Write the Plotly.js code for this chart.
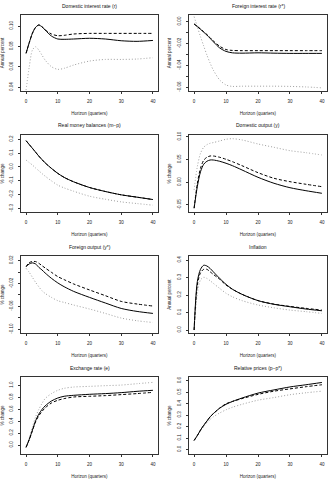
<!DOCTYPE html>
<html>
<head>
<meta charset="utf-8">
<script src="https://cdn.plot.ly/plotly-3.0.1.min.js"></script>
<style>html,body{margin:0;padding:0;background:#fff;}#chart{width:331px;height:481px;}</style>
</head>
<body>
<div id="chart"></div>
<script>
// Horizon (quarters) at which values were read
const horizon = [0,1,2,3,4,5,6,8,10,12,15,20,25,30,35,40];
const xTicks = [0,10,20,30,40];

// Panel titles and y-axis titles
const titles = ["Domestic interest rate (r)","Foreign interest rate (r*)","Real money balances (m\u2212p)","Domestic output (y)","Foreign output (y*)","Inflation","Exchange rate (e)","Relative prices (p\u2212p*)"];
const yTitles = ["Annual percent","Annual percent","% change","% change","% change","Annual percent","% change","% change"];
const xTitle = "Horizon (quarters)";

// 1 Domestic interest rate
const rSolid  = [0.0733,0.0837,0.0929,0.0987,0.1010,0.0992,0.0961,0.0902,0.0873,0.0870,0.0873,0.0880,0.0873,0.0856,0.0850,0.0859];
const rDashed = [0.0733,0.0837,0.0929,0.0987,0.1010,0.0995,0.0965,0.0922,0.0905,0.0909,0.0922,0.0928,0.0928,0.0928,0.0928,0.0928];
const rDotted = [0.0373,0.0600,0.0765,0.0797,0.0765,0.0716,0.0667,0.0602,0.0576,0.0586,0.0618,0.0657,0.0673,0.0673,0.0677,0.0690];
// 2 Foreign interest rate
const rsSolid  = [-0.0021,-0.0045,-0.0070,-0.0096,-0.0122,-0.0152,-0.0183,-0.0240,-0.0272,-0.0285,-0.0288,-0.0285,-0.0288,-0.0290,-0.0290,-0.0290];
const rsDashed = [-0.0021,-0.0043,-0.0066,-0.0092,-0.0117,-0.0146,-0.0175,-0.0225,-0.0255,-0.0263,-0.0265,-0.0265,-0.0265,-0.0265,-0.0265,-0.0265];
const rsDotted = [0.0046,-0.0045,-0.0137,-0.0222,-0.0305,-0.0378,-0.0442,-0.0533,-0.0579,-0.0592,-0.0590,-0.0590,-0.0590,-0.0592,-0.0597,-0.0605];
// 3 Real money balances
const mSolid  = [0.190,0.162,0.135,0.107,0.079,0.054,0.030,-0.010,-0.046,-0.075,-0.107,-0.148,-0.177,-0.201,-0.218,-0.235];
const mDashed = [0.190,0.162,0.135,0.107,0.079,0.054,0.030,-0.010,-0.046,-0.075,-0.107,-0.148,-0.177,-0.201,-0.218,-0.235];
const mDotted = [0.050,0.032,0.014,-0.007,-0.027,-0.047,-0.066,-0.100,-0.131,-0.151,-0.175,-0.211,-0.233,-0.252,-0.264,-0.276];
// 4 Domestic output
const ySolid  = [-0.057,-0.0098,0.023,0.0394,0.046,0.0488,0.0488,0.046,0.0416,0.0363,0.0269,0.0108,-0.0023,-0.012,-0.0186,-0.0243];
const yDashed = [-0.057,-0.003,0.0306,0.0482,0.0548,0.0576,0.0576,0.0548,0.0503,0.0451,0.0363,0.021,0.0086,0.0012,-0.0045,-0.0098];
const yDotted = [-0.017,0.034,0.0635,0.0767,0.0825,0.0855,0.087,0.0906,0.0943,0.0956,0.0928,0.084,0.0767,0.0693,0.0649,0.0598];
// 5 Foreign output
const ysSolid  = [0.0095,0.0142,0.016,0.0142,0.0083,0.0037,-0.0016,-0.011,-0.019,-0.0256,-0.0338,-0.0443,-0.0541,-0.0636,-0.0688,-0.0723];
const ysDashed = [0.0095,0.0165,0.0183,0.0183,0.0153,0.0112,0.0072,-0.0005,-0.008,-0.0133,-0.0208,-0.0313,-0.0413,-0.0513,-0.0559,-0.0594];
const ysDotted = [0.0065,-0.0005,-0.0093,-0.018,-0.0256,-0.0326,-0.0373,-0.0443,-0.0501,-0.0531,-0.0576,-0.0646,-0.0723,-0.0804,-0.0851,-0.0881];
// 6 Inflation
const piSolid  = [0.0,0.276,0.347,0.370,0.366,0.352,0.333,0.295,0.261,0.233,0.204,0.168,0.147,0.133,0.120,0.110];
const piDashed = [0.0,0.257,0.327,0.347,0.347,0.333,0.318,0.290,0.257,0.233,0.204,0.168,0.148,0.135,0.124,0.114];
const piDotted = [0.004,0.210,0.286,0.301,0.295,0.282,0.267,0.238,0.210,0.190,0.168,0.143,0.127,0.114,0.105,0.095];
// 7 Exchange rate
const eSolid  = [-0.038,0.095,0.25,0.405,0.517,0.595,0.655,0.738,0.788,0.817,0.833,0.85,0.862,0.878,0.90,0.917];
const eDashed = [-0.038,0.09,0.24,0.39,0.489,0.562,0.622,0.705,0.75,0.778,0.805,0.817,0.828,0.845,0.862,0.883];
const eDotted = [-0.038,0.112,0.305,0.472,0.595,0.695,0.778,0.862,0.917,0.95,0.972,0.983,0.995,1.005,1.028,1.05];
// 8 Relative prices
const pSolid  = [0.079,0.121,0.169,0.211,0.248,0.285,0.313,0.361,0.395,0.420,0.450,0.493,0.521,0.547,0.566,0.586];
const pDashed = [0.079,0.121,0.169,0.211,0.248,0.285,0.313,0.362,0.400,0.420,0.445,0.482,0.510,0.530,0.549,0.566];
const pDotted = [0.079,0.121,0.163,0.200,0.234,0.262,0.285,0.319,0.347,0.369,0.395,0.431,0.454,0.479,0.496,0.510];

// Y tick values and labels
const yTickVals = [
  [0.04,0.06,0.08,0.10],
  [-0.06,-0.05,-0.04,-0.03,-0.02,-0.01,0.00],
  [-0.3,-0.2,-0.1,0.0,0.1,0.2],
  [-0.05,0.00,0.05,0.10],
  [-0.10,-0.08,-0.06,-0.04,-0.02,0.00,0.02],
  [0.0,0.1,0.2,0.3,0.4],
  [0.0,0.2,0.4,0.6,0.8,1.0],
  [0.0,0.1,0.2,0.3,0.4,0.5,0.6]
];
const yTickText = [
  ["0.04","0.06","0.08","0.10"],
  ["-0.06","","-0.04","","-0.02","","0.00"],
  ["-0.3","-0.2","-0.1","0.0","0.1","0.2"],
  ["-0.05","0.00","0.05","0.10"],
  ["-0.10","","-0.06","","-0.02","","0.02"],
  ["0.0","0.1","0.2","0.3","0.4"],
  ["0.0","0.2","0.4","0.6","0.8","1.0"],
  ["0.0","0.1","0.2","0.3","0.4","0.5","0.6"]
];
const yRanges = [[0.0364,0.1108],[-0.0634,0.0061],[-0.325,0.231],[-0.0654,0.1037],[-0.1065,0.028],[-0.017,0.423],[-0.15,1.14],[-0.04,0.634]];

const panels = [
  [rSolid,rDashed,rDotted],[rsSolid,rsDashed,rsDotted],[mSolid,mDashed,mDotted],[ySolid,yDashed,yDotted],
  [ysSolid,ysDashed,ysDotted],[piSolid,piDashed,piDotted],[eSolid,eDashed,eDotted],[pSolid,pDashed,pDotted]
];

// layout geometry (pixels)
const W = 331, H = 481;
const colX = [[21,158],[189,327]];
const rowY = [[15,91],[135,212],[256,333],[377,454]];

const font = "Liberation Sans, Arial, Helvetica, sans-serif";
const data = [];
const layout = {
  width: W, height: H, margin: {l:0,r:0,t:0,b:0},
  paper_bgcolor: "#fff", plot_bgcolor: "#fff",
  showlegend: false, font: {family: font, size: 4.5, color: "#000"},
  annotations: []
};

const styles = [
  {color:"#000", width:1, dash:"solid"},
  {color:"#000", width:1, dash:"3px,2px"},
  {color:"#a0a0a0", width:1, dash:"1px,2px"}
];

panels.forEach((series, i) => {
  const col = i % 2, row = Math.floor(i / 2);
  const xa = i === 0 ? "x" : "x" + (i + 1);
  const ya = i === 0 ? "y" : "y" + (i + 1);
  const xKey = i === 0 ? "xaxis" : "xaxis" + (i + 1);
  const yKey = i === 0 ? "yaxis" : "yaxis" + (i + 1);
  [2,1,0].forEach(k => {
    data.push({x: horizon, y: series[k], xaxis: xa, yaxis: ya, type: "scatter", mode: "lines",
      line: {color: styles[k].color, width: styles[k].width, dash: styles[k].dash, shape: "spline", smoothing: 0.8},
      hoverinfo: "skip"});
  });
  const xd = [colX[col][0] / W, colX[col][1] / W];
  const yd = [1 - rowY[row][1] / H, 1 - rowY[row][0] / H];
  layout[xKey] = {
    domain: xd, anchor: ya, range: [-1.6, 41.6], tickvals: xTicks, ticktext: xTicks.map(String),
    showgrid: false, zeroline: false, showline: true, mirror: true, linecolor: "#000", linewidth: 0.8,
    ticks: "outside", ticklen: 2, tickwidth: 0.8, tickcolor: "#000",
    tickfont: {size: 4.5, family: font, color: "#222"}, ticklabelstandoff: 4,
    title: {text: xTitle, font: {size: 4.5, family: font, color: "#222"}, standoff: 8}
  };
  layout[yKey] = {
    domain: yd, anchor: xa, range: yRanges[i], tickvals: yTickVals[i], ticktext: yTickText[i],
    showgrid: false, zeroline: false, showline: true, mirror: true, linecolor: "#000", linewidth: 0.8,
    ticks: "outside", ticklen: 2, tickwidth: 0.8, tickcolor: "#000", tickangle: -90,
    tickfont: {size: 4.5, family: font, color: "#222"}, ticklabelstandoff: 3,
    title: {text: yTitles[i], font: {size: 4.5, family: font, color: "#222"}, standoff: 5}
  };
  layout.annotations.push({
    text: titles[i], xref: "paper", yref: "paper",
    x: (xd[0] + xd[1]) / 2, y: 1 - (rowY[row][0] - 9.5) / H,
    xanchor: "center", yanchor: "middle", showarrow: false,
    font: {size: 5, family: font, color: "#111"}
  });
});

Plotly.newPlot("chart", data, layout, {displayModeBar: false, staticPlot: true});
</script>
</body>
</html>
